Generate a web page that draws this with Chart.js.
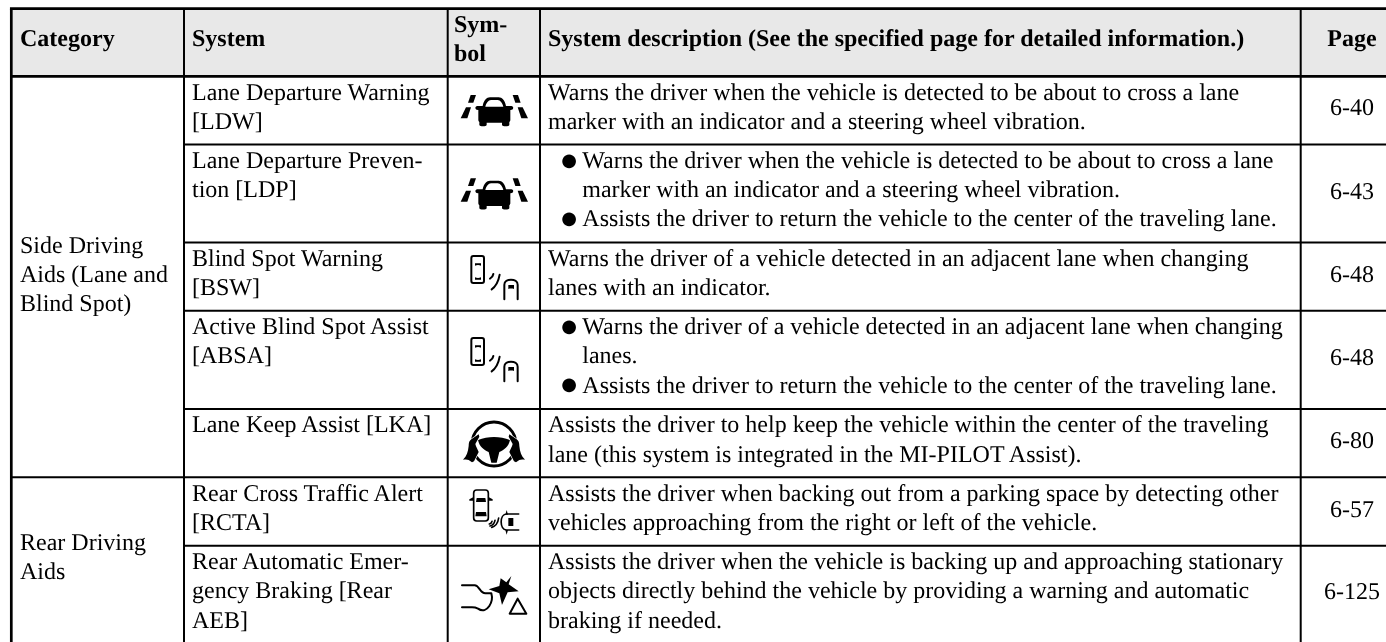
<!DOCTYPE html>
<html>
<head>
<meta charset="utf-8">
<title>Driving aids table</title>
<script src="https://cdn.jsdelivr.net/npm/chart.js@4"></script>
<style>
  html, body { margin: 0; padding: 0; background: #fff; overflow: hidden; }
  canvas { display: block; }
</style>
</head>
<body>
<canvas id="myChart" width="1386" height="642"></canvas>
<script>
// table content
const headers = ['Category', 'System', ['Sym-', 'bol'], 'System description (See the specified page for detailed information.)', 'Page'];
const categories = [['Side Driving', 'Aids (Lane and', 'Blind Spot)'], ['Rear Driving', 'Aids']];
const systems = [
  ['Lane Departure Warning', '[LDW]'],
  ['Lane Departure Preven-', 'tion [LDP]'],
  ['Blind Spot Warning', '[BSW]'],
  ['Active Blind Spot Assist', '[ABSA]'],
  ['Lane Keep Assist [LKA]'],
  ['Rear Cross Traffic Alert', '[RCTA]'],
  ['Rear Automatic Emer-', 'gency Braking [Rear', 'AEB]']
];
const descriptions = [
  ['Warns the driver when the vehicle is detected to be about to cross a lane', 'marker with an indicator and a steering wheel vibration.'],
  ['Warns the driver when the vehicle is detected to be about to cross a lane', 'marker with an indicator and a steering wheel vibration.', 'Assists the driver to return the vehicle to the center of the traveling lane.'],
  ['Warns the driver of a vehicle detected in an adjacent lane when changing', 'lanes with an indicator.'],
  ['Warns the driver of a vehicle detected in an adjacent lane when changing', 'lanes.', 'Assists the driver to return the vehicle to the center of the traveling lane.'],
  ['Assists the driver to help keep the vehicle within the center of the traveling', 'lane (this system is integrated in the MI-PILOT Assist).'],
  ['Assists the driver when backing out from a parking space by detecting other', 'vehicles approaching from the right or left of the vehicle.'],
  ['Assists the driver when the vehicle is backing up and approaching stationary', 'objects directly behind the vehicle by providing a warning and automatic', 'braking if needed.']
];
const bulletLines = [[], [0, 2], [], [0, 2], [], [], []];
const pages = ['6-40', '6-43', '6-48', '6-48', '6-80', '6-57', '6-125'];

// table layout, in page pixels
const colEdges = [11.3, 184, 447.7, 540, 1300.7, 1386];
const rowEdges = [76.3, 144.5, 242.5, 310.7, 409, 477.3, 545.7, 642];
const headerTop = 8.6;
const categorySpans = [[0, 5], [5, 7]];
const lineStep = 29.2;
const firstBaseline = 23.4;
const textFont = '24px "Liberation Serif"';
const boldFont = 'bold 24px "Liberation Serif"';

// icons, traced in 3x units around the top-left of their own box
const laneCar = [
  'M92 135h16l-8 23h-16z', 'M78 172h15l-11 33h-20z',
  'M234 135h-16l8 23h16z', 'M248 172h-15l11 33h20z',
  'M128 168c3-16 12-26 22-26h26c10 0 19 10 22 26h16c8 0 8 12-2 12h-1v30c0 3-2 5-3 6v9c0 5-22 5-22 0v-7h-46v7c0 5-22 5-22 0v-9c-1-1-3-3-3-6v-30h-1c-10 0-10-12-2-12zM136 170h54c-3-11-9-20-17-20h-20c-8 0-14 9-17 20z'
];
const blindSpot = {
  solid: ['M105 640h18v7c-6-3-12-3-18 0z', 'M105 682c6 3 12 3 18 0v7h-18z', 'M205 705h17v12c-5-2-12-2-17 0z'],
  line: ['M100 618h26c4 0 6 3 6 7v68c0 4-2 6-6 6h-26c-4 0-6-2-6-6v-68c0-4 2-7 6-7z', 'M193 748v-44c0-20 40-20 40 0v44', 'M150 686c6-3 9-8 10-14', 'M155 718c12-8 20-22 24-44']
};
const symbolIcons = [
  { y: 50, solid: laneCar, line: [] },
  { y: 133.3, solid: laneCar, line: [] },
  { y: 50, solid: blindSpot.solid, line: blindSpot.line },
  { y: 132, solid: blindSpot.solid, line: blindSpot.line },
  { y: 340, width: 9, solid: [
      'M114 300c30-12 66-12 96 0-4 20-18 30-32 36l-8 32h-16l-8-32c-14-6-28-16-32-36z'
    ], line: ['M96 312a66 66 0 1 0 132 0a66 66 0 1 0-132 0'],
    hands: [
      'M70 358c10-10 14-22 16-40 0-10 2-16 8-20l22-15 2 7-12 22c2 8 6 14 10 24l-14 28-6 3-10-7c-4-2-10-2-16-1z',
      'M254 358c-10-10-14-22-16-40 0-10-2-16-8-20l-22-15-2 7 12 22c-2 8-6 14-10 24l14 28 6 3 10-7c4-2 10-2 16-1z'
    ] },
  { y: 340, width: 5, solid: [
      'M88 478l14-8v12h-14z', 'M158 478l-14-8v12h14z', 'M110 474h26l2 12h-30z', 'M108 516h30l2 13h-34z',
      'M205 534h15v24h-15z', 'M200 510l4 14h-8z', 'M200 584l4-14h-8z'
    ], line: ['M110 450h26c5 0 9 4 9 9v75c0 5-4 9-9 9h-26c-5 0-9-4-9-9v-75c0-5 4-9 9-9z', 'M236 522h-36c-22 0-22 48 0 48h36', 'M148 552c4-1 7-4 8-8', 'M150 558c8-2 13-8 15-17', 'M155 562c11-3 19-14 21-28'] },
  { y: 340, solid: [
      'M214 708l-8 25 30 21-33 3-17 38-8-35-32-12 32-10 4-23 17 12z'
    ], line: ['M66 736h38c14 0 16 24 32 24h18c4 14 2 26-6 38-8 12-20 18-34 8-6-3-10-4-18-4h-30', 'M233 776l-24 45h50z'] }
];

// one ruled line per dataset, so the grid goes through the chart's own scales
function rule(x1, y1, x2, y2, width) {
  return {
    type: 'scatter', showLine: true, pointRadius: 0,
    borderColor: '#000', borderWidth: width, order: 1,
    data: [{ x: x1, y: y1 }, { x: x2, y: y2 }]
  };
}

const tableRight = colEdges[colEdges.length - 1];
const tableBottom = rowEdges[rowEdges.length - 1];
const datasets = [{
  type: 'scatter', showLine: true, pointRadius: 0, borderWidth: 0, order: 2,
  backgroundColor: '#e8e8e8', fill: { value: rowEdges[0] },
  data: [{ x: colEdges[0], y: headerTop }, { x: tableRight, y: headerTop }]
}];
datasets.push(rule(colEdges[0] - 1.35, headerTop, tableRight, headerTop, 2.7));
datasets.push(rule(colEdges[0], rowEdges[0], tableRight, rowEdges[0], 2.7));
rowEdges.slice(1, -1).forEach(function (y, i) {
  const left = (i + 1 === categorySpans[0][1]) ? colEdges[0] : colEdges[1];
  datasets.push(rule(left, y, tableRight, y, 2));
});
colEdges.slice(0, -1).forEach(function (x, i) {
  datasets.push(rule(x, headerTop, x, tableBottom, i === 0 ? 2.7 : 2));
});

const tableText = {
  id: 'tableText',
  afterDatasetsDraw(chart) {
    const { ctx, scales: { x, y } } = chart;
    const put = function (str, px, py, align) {
      ctx.textAlign = align || 'left';
      ctx.fillText(str, x.getPixelForValue(px), y.getPixelForValue(py));
    };
    ctx.save();
    ctx.fillStyle = '#000';
    ctx.textBaseline = 'alphabetic';
    ctx.textRendering = 'geometricPrecision';

    // header row
    ctx.font = boldFont;
    put(headers[0], 20, 46);
    put(headers[1], 192, 46);
    put(headers[2][0], 454, 32);
    put(headers[2][1], 454, 61);
    put(headers[3], 548, 46);
    put(headers[4], 1352, 46, 'center');

    // category column, centred on the rows it spans
    ctx.font = textFont;
    categories.forEach(function (lines, c) {
      const mid = (rowEdges[categorySpans[c][0]] + rowEdges[categorySpans[c][1]]) / 2;
      const start = mid + 5 - (lines.length - 1) * lineStep / 2;
      lines.forEach(function (s, i) { put(s, 20, start + i * lineStep); });
    });

    systems.forEach(function (lines, r) {
      const top = rowEdges[r];
      lines.forEach(function (s, i) { put(s, 192, top + firstBaseline + i * lineStep); });
      descriptions[r].forEach(function (s, i) {
        const by = top + firstBaseline + i * lineStep;
        if (bulletLines[r].length) {
          put(s, 582.3, by);
          if (bulletLines[r].includes(i)) {
            ctx.font = '18px "DejaVu Sans"';
            put('\u25CF', 569, by - 2.3, 'center');
            ctx.font = textFont;
          }
        } else {
          put(s, 548, by);
        }
      });
      const mid = (rowEdges[r] + rowEdges[r + 1]) / 2;
      put(pages[r], 1352, mid + 5, 'center');
    });
    ctx.restore();
  }
};

const symbols = {
  id: 'symbols',
  afterDatasetsDraw(chart) {
    const { ctx, scales: { x, y } } = chart;
    symbolIcons.forEach(function (icon) {
      ctx.save();
      ctx.translate(x.getPixelForValue(440), y.getPixelForValue(icon.y));
      ctx.scale(1 / 3, 1 / 3);
      ctx.fillStyle = '#000';
      ctx.strokeStyle = '#000';
      ctx.lineWidth = icon.width || 6;
      ctx.lineCap = 'round';
      ctx.lineJoin = 'round';
      icon.solid.forEach(function (d) { ctx.fill(new Path2D(d), 'evenodd'); });
      icon.line.forEach(function (d) { ctx.stroke(new Path2D(d)); });
      (icon.hands || []).forEach(function (d) {
        const p = new Path2D(d);
        ctx.strokeStyle = '#fff';
        ctx.lineWidth = 4;
        ctx.stroke(p);
        ctx.fill(p);
      });
      ctx.restore();
    });
  }
};

new Chart(document.getElementById('myChart'), {
  type: 'scatter',
  data: { datasets: datasets },
  plugins: [tableText, symbols],
  options: {
    responsive: false,
    animation: false,
    layout: { padding: 0 },
    plugins: { legend: { display: false }, tooltip: { enabled: false } },
    scales: {
      x: { type: 'linear', display: false, min: 0, max: 1386 },
      y: { type: 'linear', display: false, min: 0, max: 642, reverse: true }
    }
  }
});
</script>
</body>
</html>
